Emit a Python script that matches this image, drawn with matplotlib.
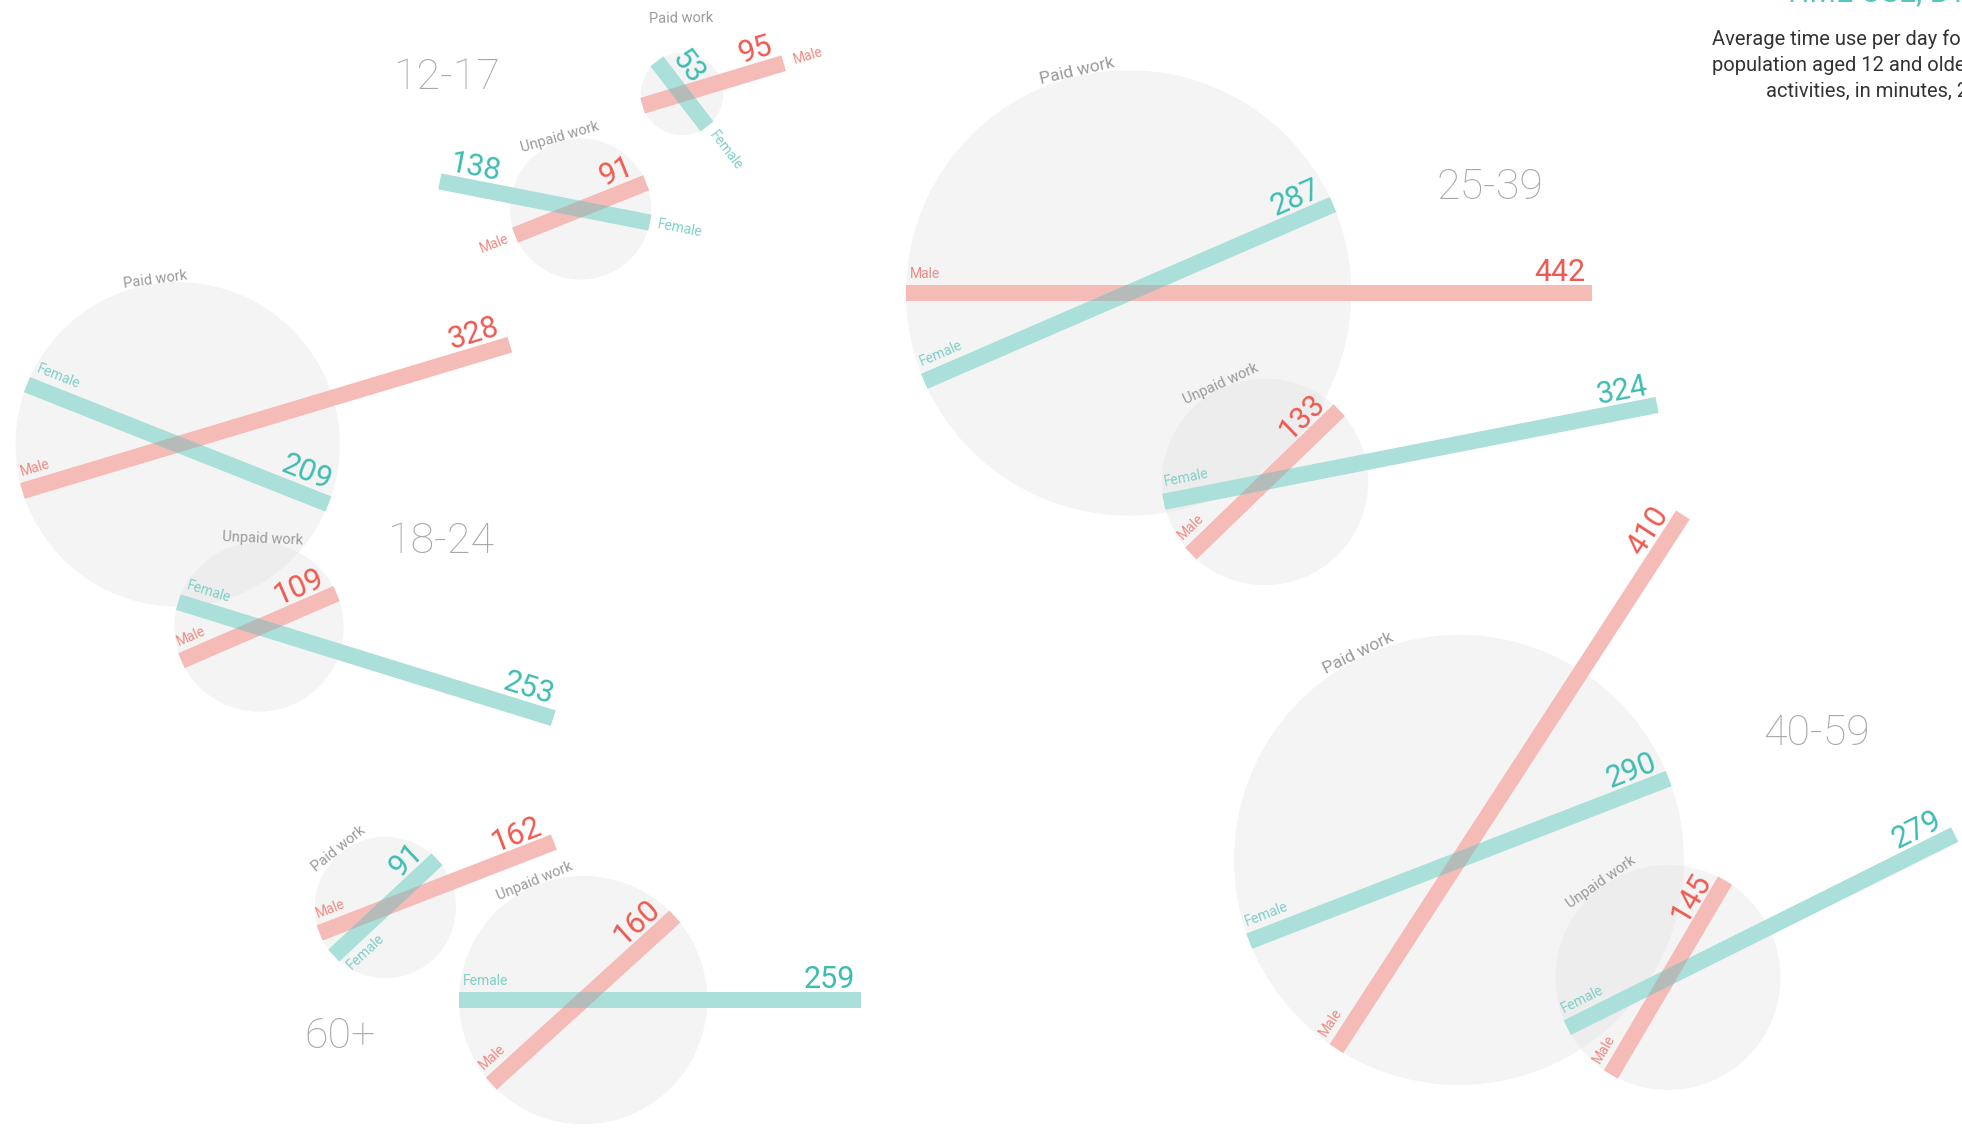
import numpy as np
import matplotlib
matplotlib.use("Agg")
import matplotlib.pyplot as plt
from matplotlib.patches import Circle, Polygon

plt.rcParams['font.family'] = ['Roboto', 'DejaVu Sans']

# ---------------- data (minutes per day) ----------------
groups = ['12-17', '18-24', '25-39', '40-59', '60+']
paid_female = [53, 209, 287, 290, 91]
paid_male = [95, 328, 442, 410, 162]
unpaid_female = [138, 253, 324, 279, 259]
unpaid_male = [91, 109, 133, 145, 160]
activities = ['Paid work', 'Unpaid work']

# ---------------- layout (positions / angles only) ----------------
LAYOUT = {
    ('12-17', 0): dict(c=(545, 75), fa=127.6, ma=16.8, phi=91, off=24, fm='before', mm='after'),
    ('12-17', 1): dict(c=(464, 167), fa=168.9, ma=21.8, phi=106, off=0, fm='before', mm='before'),
    ('18-24', 0): dict(c=(142, 355), fa=-21.6, ma=16.7, phi=97.8, off=0, fm='above', mm='above'),
    ('18-24', 1): dict(c=(207, 501), fa=-17.2, ma=23.4, phi=87.5, off=0, fm='above', mm='above'),
    ('25-39', 0): dict(c=(902, 234), fa=23.4, ma=0.0, phi=103, off=0, fm='above', mm='above'),
    ('25-39', 1): dict(c=(1011, 385), fa=11.1, ma=44.0, phi=114.4, off=0, fm='above', mm='above'),
    ('40-59', 0): dict(c=(1166, 687), fa=21.2, ma=57.0, phi=116, off=0, fm='above', mm='above'),
    ('40-59', 1): dict(c=(1333, 781), fa=26.5, ma=59.5, phi=124.9, off=0, fm='above', mm='above'),
    ('60+', 0): dict(c=(308, 725), fa=43.0, ma=21.2, phi=128.7, off=0, fm='below', mm='above'),
    ('60+', 1): dict(c=(466, 799), fa=0.0, ma=42.3, phi=112.4, off=0, fm='above', mm='above'),
}
GROUP_LABEL_POS = {'12-17': (357, 62), '18-24': (352, 433), '25-39': (1191, 150),
                   '40-59': (1452, 586), '60+': (272, 828)}

SCALE = 1.24          # canvas units per minute
HW = 6.5              # half bar width
W, H = 1568, 902      # canvas units

C_F_BAR, C_M_BAR = '#abdfda', '#f5bbb7'
C_F_NUM, C_M_NUM = '#3dbdb0', '#ee5a50'
C_F_LAB, C_M_LAB = '#7fd0c8', '#f08a83'
C_OVER = '#b5bbb8'
C_GRAY = '#a8a8a8'

fig = plt.figure(figsize=(19.62, 11.29), dpi=100)
ax = fig.add_axes([0, 0, 1, 1])
ax.set_xlim(0, W)
ax.set_ylim(H, 0)
ax.axis('off')


def dvec(a):
    r = np.radians(a)
    return np.array([np.cos(r), -np.sin(r)])


def upvec(rot):
    r = np.radians(rot)
    return np.array([-np.sin(r), -np.cos(r)])


def upright(a):
    a = (a + 180) % 360 - 180
    if a > 90:
        return a - 180, True
    if a <= -90:
        return a + 180, True
    return a, False


def bar(start, a, length, color):
    d = dvec(a)
    n = np.array([-d[1], d[0]])
    pts = [start + HW * n, start + length * d + HW * n,
           start + length * d - HW * n, start - HW * n]
    p = Polygon(pts, closed=True, facecolor=color, edgecolor='none', zorder=3)
    ax.add_patch(p)
    return p, pts


def gender_label(text, start, a, length, mode, color):
    d = dvec(a)
    end = start + length * d
    if mode == 'before':
        rot, fl = upright(a + 180)
        pos = start - 6 * d
        ax.text(*pos, text, rotation=rot, rotation_mode='anchor', ha='right' if fl else 'left',
                va='center', color=color, fontsize=10, zorder=6)
    elif mode == 'after':
        rot, fl = upright(a)
        pos = end + 8 * d
        ax.text(*pos, text, rotation=rot, rotation_mode='anchor', ha='right' if fl else 'left',
                va='center', color=color, fontsize=10, zorder=6)
    else:
        rot, fl = upright(a)
        u = upvec(rot)
        sgn = 1 if mode == 'above' else -1
        pos = start + 3 * d + sgn * (HW + 3) * u
        ax.text(*pos, text, rotation=rot, rotation_mode='anchor', ha='right' if fl else 'left',
                va='bottom' if sgn > 0 else 'top', color=color, fontsize=10, zorder=6)


def number_label(val, start, a, length, color):
    d = dvec(a)
    end = start + length * d
    rot, fl = upright(a)
    u = upvec(rot)
    pos = end - 5 * d + (HW - 1.5) * u
    ax.text(*pos, str(val), rotation=rot, rotation_mode='anchor', ha='left' if fl else 'right',
            va='bottom', color=color, fontsize=22, zorder=6)


series = [(paid_female, paid_male), (unpaid_female, unpaid_male)]
for gi, g in enumerate(groups):
    for k, act in enumerate(activities):
        lay = LAYOUT[(g, k)]
        fv, mv = series[k][0][gi], series[k][1][gi]
        c = np.array(lay['c'], dtype=float)
        r = min(fv, mv) * SCALE / 2
        ax.add_patch(Circle(c, r, facecolor='#e4e4e4', edgecolor='none', alpha=0.4, zorder=1))
        phi = lay['phi']
        lp = c + (r + lay['off']) * dvec(phi)
        fs = 12.5 if r > 160 else 10.5
        ax.text(*lp, act, rotation=phi - 90, rotation_mode='anchor', ha='center', va='baseline',
                color='#9a9a9a', fontsize=fs, zorder=6)
        f_start = c - r * dvec(lay['fa'])
        m_start = c - r * dvec(lay['ma'])
        f_len, m_len = fv * SCALE, mv * SCALE
        mp, _ = bar(m_start, lay['ma'], m_len, C_M_BAR)
        fp, fpts = bar(f_start, lay['fa'], f_len, C_F_BAR)
        ov = Polygon(fpts, closed=True, facecolor=C_OVER, edgecolor='none', zorder=4)
        ax.add_patch(ov)
        ov.set_clip_path(mp)
        gender_label('Female', f_start, lay['fa'], f_len, lay['fm'], C_F_LAB)
        gender_label('Male', m_start, lay['ma'], m_len, lay['mm'], C_M_LAB)
        number_label(fv, f_start, lay['fa'], f_len, C_F_NUM)
        number_label(mv, m_start, lay['ma'], m_len, C_M_NUM)
    ax.text(*GROUP_LABEL_POS[g], g, ha='center', va='center', color=C_GRAY,
            fontsize=31, fontweight='light', zorder=6)

# title (mostly cropped at top edge, as in the reference) and subtitle
ax.text(1425, -6, 'TIME USE, BY AGE', ha='left', va='center', color='#56c5ba',
        fontsize=22, zorder=6)
sub = ['Average time use per day for the', 'population aged 12 and older, by',
       'activities, in minutes, 2013']
sub_x = [1368, 1368, 1411]
for i, line in enumerate(sub):
    ax.text(sub_x[i], 31 + 21 * i, line, ha='left', va='center', color='#333333',
            fontsize=14.5, zorder=6)

fig.savefig('out.png', dpi=100, facecolor='white')
